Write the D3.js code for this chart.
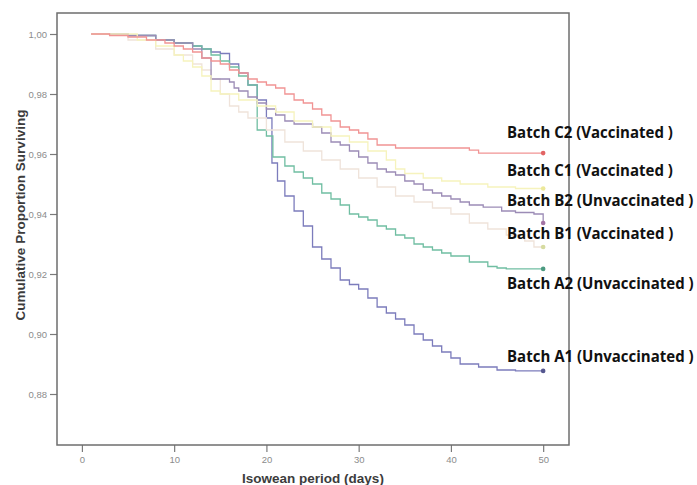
<!DOCTYPE html>
<html>
<head>
<meta charset="utf-8">
<script src="https://d3js.org/d3.v7.min.js"></script>
<style>
  body { margin: 0; background: #fff; }
  svg { display: block; }
</style>
</head>
<body>
<svg id="chart"></svg>
<script>
// Kaplan-Meier curves: [day, cumulative proportion surviving]
var batchA1 = [[1,1.000],[5,0.9995],[8,0.998],[10,0.997],[12,0.996],[13,0.995],[14,0.994],[15,0.9935],[16,0.990],[17,0.987],[18,0.983],[19,0.978],[20,0.972],[20.6,0.957],[21.2,0.951],[22,0.946],[23,0.941],[24,0.936],[25,0.929],[26,0.925],[27,0.922],[28,0.918],[29,0.9165],[30,0.915],[31,0.912],[32,0.909],[33,0.907],[34,0.905],[35,0.903],[36,0.900],[37,0.898],[38,0.896],[39,0.894],[40,0.892],[41,0.890],[43,0.889],[45,0.888],[47,0.8877],[50,0.8877]];
var batchA2 = [[1,1.000],[5,0.9995],[8,0.998],[10,0.997],[12,0.996],[13,0.995],[14,0.993],[15,0.991],[16,0.989],[17,0.986],[18,0.983],[19,0.968],[20,0.966],[20.7,0.959],[22,0.956],[23,0.954],[24,0.952],[25,0.950],[26,0.947],[27,0.945],[28,0.943],[29,0.940],[30,0.939],[31,0.938],[32,0.936],[33,0.935],[34,0.933],[35,0.932],[36,0.930],[37,0.929],[38,0.928],[39,0.927],[40,0.926],[42,0.924],[44,0.9225],[45,0.922],[46,0.9217],[50,0.9217]];
var batchB1 = [[1,1.000],[5,0.998],[8,0.995],[10,0.993],[12,0.990],[13,0.988],[14,0.985],[15,0.980],[16,0.976],[17,0.974],[18,0.972],[20,0.968],[22,0.964],[24,0.961],[26,0.958],[28,0.955],[30,0.952],[32,0.949],[34,0.946],[36,0.944],[38,0.942],[40,0.940],[42,0.937],[44,0.935],[46,0.933],[48,0.931],[49,0.929],[50,0.929]];
var batchB2 = [[1,1.000],[5,0.9995],[8,0.998],[10,0.997],[12,0.995],[13,0.992],[14,0.985],[16,0.984],[16.5,0.982],[17,0.981],[18,0.979],[19,0.977],[20,0.975],[21,0.973],[22,0.971],[23,0.970],[25,0.969],[26,0.967],[27,0.964],[28,0.963],[29,0.961],[30,0.959],[31,0.957],[32,0.955],[33,0.954],[34,0.953],[35,0.951],[36,0.950],[37,0.948],[38,0.947],[39,0.946],[40,0.945],[41,0.944],[42,0.943],[43.5,0.9423],[45.5,0.941],[47,0.9405],[49,0.940],[50,0.937]];
var batchC1 = [[1,1.000],[6,0.998],[8,0.996],[10,0.993],[11,0.991],[12,0.989],[13,0.986],[14,0.981],[15,0.980],[17,0.978],[19,0.976],[21,0.974],[23,0.971],[25,0.969],[27,0.966],[29,0.964],[31,0.961],[33,0.958],[34,0.955],[35,0.9535],[37,0.952],[39,0.951],[41,0.950],[44,0.949],[47,0.9485],[50,0.9485]];
var batchC2 = [[1,1.000],[3,0.9995],[5,0.999],[7,0.998],[9,0.997],[10,0.996],[11,0.995],[12,0.994],[13,0.992],[14,0.991],[15,0.990],[16,0.988],[17,0.987],[18,0.985],[19,0.984],[20,0.983],[21,0.982],[22,0.980],[23,0.978],[24,0.977],[25,0.975],[26,0.973],[27,0.971],[28,0.969],[29,0.968],[30,0.967],[31,0.965],[32,0.963],[34,0.962],[42,0.9613],[43,0.9603],[50,0.9603]];

var batchNames = ['Batch A1 (Unvaccinated )', 'Batch A2 (Unvaccinated )', 'Batch B1 (Vaccinated )',
                  'Batch B2 (Unvaccinated )', 'Batch C1 (Vaccinated )', 'Batch C2 (Vaccinated )'];
// where each label sits, in survival units
var labelAt = [0.8927, 0.917, 0.9337, 0.9448, 0.9548, 0.9673];

var xTicks = [0, 10, 20, 30, 40, 50];
var yTicks = [0.88, 0.90, 0.92, 0.94, 0.96, 0.98, 1.00];

var lineColors = ['#7c7cbc', '#70bea2', '#efe3da', '#9c8cb6', '#f6f3bd', '#f19494'];
var dotColors  = ['#55578f', '#4c9a80', '#d6dba0', '#a374a4', '#ece89a', '#e26464'];

var series = [batchA1, batchA2, batchB1, batchB2, batchC1, batchC2];

var W = 697, H = 485;
var svg = d3.select('#chart').attr('width', W).attr('height', H);

var x = d3.scaleLinear().domain([-2.7, 52.8]).range([57, 569]);
var y = d3.scaleLinear().domain([0.863, 1.007]).range([445, 13]);

var comma = function(v) { return d3.format('.2f')(v).replace('.', ','); };

// axes
var xAxis = svg.append('g')
    .attr('transform', 'translate(0,445)')
    .call(d3.axisBottom(x).tickValues(xTicks).tickSize(7).tickSizeOuter(0).tickPadding(4));
var yAxis = svg.append('g')
    .attr('transform', 'translate(57,0)')
    .call(d3.axisLeft(y).tickValues(yTicks).tickFormat(comma).tickSize(7).tickSizeOuter(0).tickPadding(3));

[xAxis, yAxis].forEach(function(a) {
  a.select('.domain').remove();
  a.selectAll('.tick line').attr('stroke', '#7a7a7a').attr('stroke-width', 1.2);
  a.selectAll('.tick text')
    .attr('fill', '#8c8c8c')
    .style('font-family', 'Liberation Sans, Arial, sans-serif')
    .style('font-size', '9.5px');
});

// frame
svg.append('rect')
  .attr('x', 57).attr('y', 13)
  .attr('width', 512).attr('height', 432)
  .attr('fill', 'none')
  .attr('stroke', '#6e6e6e')
  .attr('stroke-width', 1.5);

// curves
var line = d3.line()
  .x(function(d) { return x(d[0]); })
  .y(function(d) { return y(d[1]); })
  .curve(d3.curveStepAfter);

var gLines = svg.append('g').attr('id', 'gLines');
gLines.selectAll('path')
  .data(series)
  .enter()
  .append('path')
  .attr('d', line)
  .attr('fill', 'none')
  .attr('stroke', function(d, i) { return lineColors[i]; })
  .attr('stroke-width', 1.3);

// censor marks at the end
gLines.selectAll('circle')
  .data(series)
  .enter()
  .append('circle')
  .attr('cx', function(d) { return x(d[d.length - 1][0]); })
  .attr('cy', function(d) { return y(d[d.length - 1][1]); })
  .attr('r', 2.3)
  .attr('fill', function(d, i) { return dotColors[i]; });

// axis titles
svg.append('text')
  .attr('x', 313).attr('y', 483)
  .attr('text-anchor', 'middle')
  .style('font-family', 'Liberation Sans, Arial, sans-serif')
  .style('font-size', '13.5px')
  .style('font-weight', 'bold')
  .attr('fill', '#3c3c3c')
  .text('Isowean period (days)');

svg.append('text')
  .attr('transform', 'translate(25,215) rotate(-90)')
  .attr('text-anchor', 'middle')
  .style('font-family', 'Liberation Sans, Arial, sans-serif')
  .style('font-size', '13.5px')
  .style('font-weight', 'bold')
  .attr('fill', '#3c3c3c')
  .text('Cumulative Proportion Surviving');

// batch labels on the right
var labels = svg.append('g').attr('id', 'gLabels')
  .selectAll('text')
  .data(batchNames)
  .enter()
  .append('text')
  .attr('transform', function(d, i) { return 'translate(507,' + (y(labelAt[i]) + 6) + ') scale(0.91,1)'; })
  .style('font-family', 'Open Sans, sans-serif')
  .style('font-size', '16.5px')
  .style('font-weight', 'bold')
  .attr('fill', '#111')
  .text(function(d) { return d; });
</script>
</body>
</html>
